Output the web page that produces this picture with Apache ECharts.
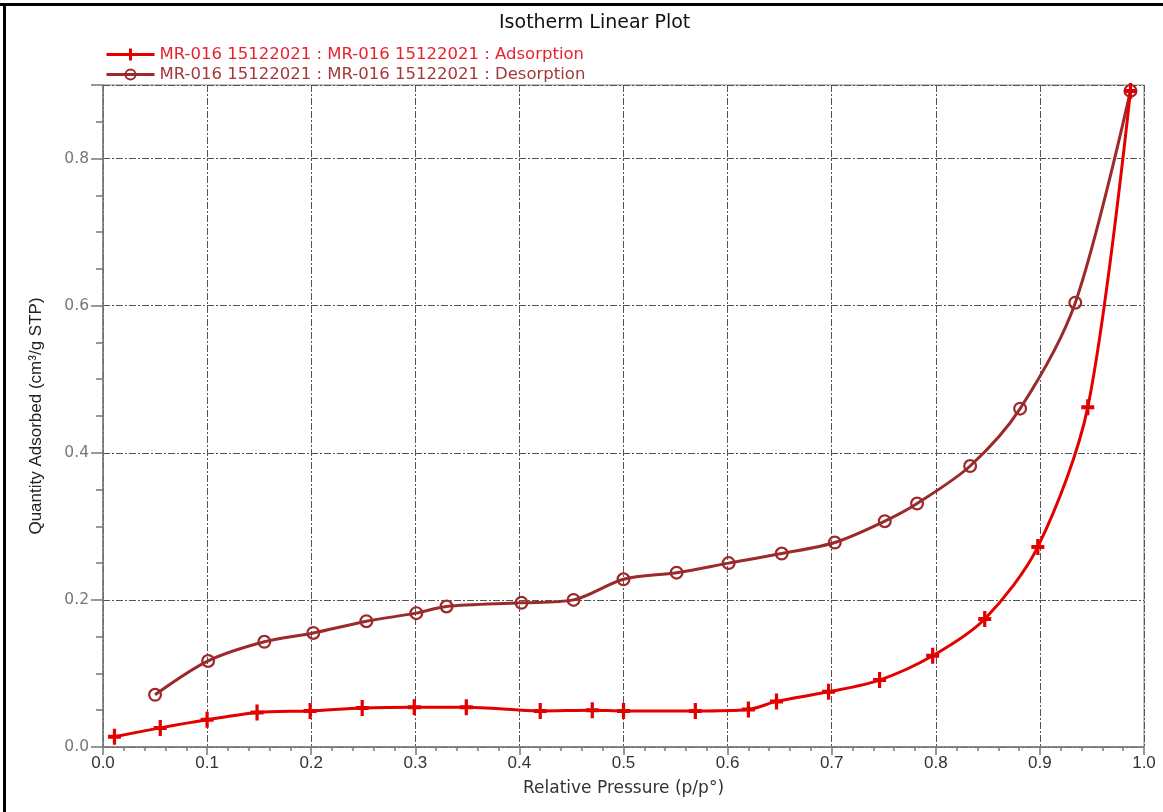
<!DOCTYPE html>
<html>
<head>
<meta charset="utf-8">
<script src="https://cdn.jsdelivr.net/npm/echarts@6/dist/echarts.min.js"></script>
<style>
  html, body { margin: 0; padding: 0; background: #fff; }
  #chart { width: 1163px; height: 812px; }
</style>
</head>
<body>
<div id="chart"></div>
<script>
// Relative pressure (p/p°) and quantity adsorbed (cm³/g STP)
const adsorptionP = [0.011, 0.055, 0.100, 0.148, 0.199, 0.249, 0.299, 0.349, 0.420, 0.470, 0.500,
                     0.569, 0.620, 0.647, 0.697, 0.746, 0.797, 0.847, 0.898, 0.946, 0.987];
const adsorptionQ = [0.014, 0.026, 0.037, 0.047, 0.049, 0.053, 0.054, 0.054, 0.049, 0.050, 0.049,
                     0.049, 0.051, 0.062, 0.075, 0.091, 0.124, 0.174, 0.272, 0.462, 0.892];

const desorptionP = [0.050, 0.101, 0.155, 0.202, 0.253, 0.301, 0.330, 0.402, 0.452, 0.500,
                     0.551, 0.601, 0.652, 0.703, 0.751, 0.782, 0.833, 0.881, 0.934, 0.987];
const desorptionQ = [0.071, 0.117, 0.143, 0.155, 0.171, 0.182, 0.191, 0.196, 0.200, 0.228,
                     0.237, 0.250, 0.263, 0.278, 0.307, 0.331, 0.382, 0.460, 0.604, 0.892];

const seriesNames = [
  'MR-016 15122021 : MR-016 15122021 : Adsorption',
  'MR-016 15122021 : MR-016 15122021 : Desorption'
];
const titleText = 'Isotherm Linear Plot';
const xAxisName = 'Relative Pressure (p/p°)';
const yAxisName = 'Quantity Adsorbed (cm³/g STP)';

const RED = '#e50000';
const BROWN = '#9c2a2c';

const plusSymbol = 'path://M4.5,0 H7.5 V12 H4.5 Z M0,4.5 H12 V7.5 H0 Z';
const ringSymbol = 'path://M0,10A10,10,0,1,1,20,10A10,10,0,1,1,0,10Z M3.2,10A6.8,6.8,0,1,0,16.8,10A6.8,6.8,0,1,0,3.2,10Z';

const pairs = (xs, ys) => xs.map((x, i) => [x, ys[i]]);
const narrow = "'Liberation Sans Narrow', 'Liberation Sans', Arial, sans-serif";
const gridLine = { color: '#555', width: 1, type: [7, 2, 2, 2] };

const chart = echarts.init(document.getElementById('chart'), null, { renderer: 'canvas' });
chart.setOption({
  animation: false,
  backgroundColor: '#fff',
  title: {
    text: titleText,
    left: 494, top: 9,
    textStyle: { fontFamily: 'DejaVu Sans', fontSize: 19, fontWeight: 'normal', color: '#111' }
  },
  legend: {
    orient: 'vertical',
    left: 100, top: 41,
    itemWidth: 48, itemHeight: 15, itemGap: 3,
    lineStyle: { width: 3 },
    data: [
      { name: seriesNames[0], textStyle: { color: '#e8222c' } },
      { name: seriesNames[1], textStyle: { color: '#a4383a' } }
    ],
    textStyle: { fontFamily: 'DejaVu Sans', fontSize: 16.5 }
  },
  grid: {
    left: 103, right: 19, top: 85, bottom: 65,
    show: true, borderColor: '#8a8a8a', borderWidth: 1
  },
  xAxis: {
    type: 'value', min: 0, max: 1, interval: 0.1,
    name: xAxisName, nameLocation: 'middle', nameGap: 33,
    nameTextStyle: { fontFamily: 'DejaVu Sans', fontSize: 17, color: '#333' },
    axisLine: { lineStyle: { color: '#777', width: 1.5 } },
    axisTick: { length: 8, lineStyle: { color: '#777', width: 1.5 } },
    minorTick: { show: true, splitNumber: 5, length: 4, lineStyle: { color: '#777', width: 1.5 } },
    axisLabel: { fontFamily: narrow, fontSize: 17, color: '#333', margin: 8,
                 formatter: v => v.toFixed(1) },
    splitLine: { show: true, lineStyle: gridLine }
  },
  yAxis: {
    type: 'value', min: 0, max: 0.9, interval: 0.2,
    name: yAxisName, nameLocation: 'middle', nameGap: 58, nameRotate: 90,
    nameTextStyle: { fontFamily: narrow, fontSize: 17, color: '#222' },
    axisLine: { show: true, lineStyle: { color: '#777', width: 1.5 } },
    axisTick: { show: true, length: 12, lineStyle: { color: '#777', width: 1.5 } },
    minorTick: { show: true, splitNumber: 4, length: 7, lineStyle: { color: '#777', width: 1.5 } },
    axisLabel: { fontFamily: 'DejaVu Sans', fontSize: 15.5, color: '#777', margin: 14,
                 showMaxLabel: false, formatter: v => v.toFixed(1) },
    splitLine: { show: true, lineStyle: gridLine }
  },
  series: [
    {
      name: seriesNames[0], type: 'line', smooth: 0.3,
      data: pairs(adsorptionP, adsorptionQ),
      symbol: plusSymbol, symbolSize: [13, 16],
      lineStyle: { color: RED, width: 3 },
      itemStyle: { color: RED },
      z: 3
    },
    {
      name: seriesNames[1], type: 'line', smooth: 0.3,
      data: pairs(desorptionP, desorptionQ),
      symbol: ringSymbol, symbolSize: 14,
      lineStyle: { color: BROWN, width: 3 },
      itemStyle: { color: BROWN },
      z: 2
    }
  ],
  graphic: [
    // outer frame: top and left edges
    { type: 'rect', left: 0, top: 3, shape: { width: 1163, height: 3 }, style: { fill: '#000' }, silent: true },
    { type: 'rect', left: 3, top: 3, shape: { width: 3, height: 809 }, style: { fill: '#000' }, silent: true }
  ]
});
</script>
</body>
</html>
